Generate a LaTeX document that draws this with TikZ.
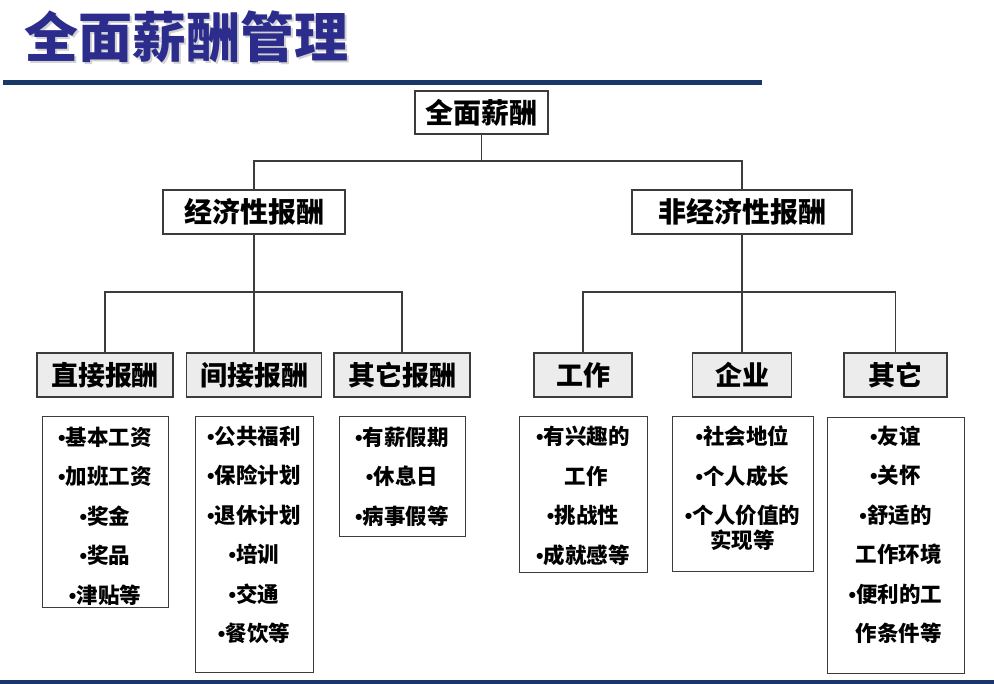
\documentclass[tikz,border=0pt]{standalone}
\usepackage{fontspec}
\newfontfamily\cjk{Noto Sans CJK SC}
\newfontfamily\latinf{Liberation Sans}
\newcommand{\bul}{{\latinf\bfseries •}}
\definecolor{titleblue}{RGB}{44,44,140}
\definecolor{navy}{RGB}{25,55,105}
\definecolor{boxgray}{RGB}{236,236,236}
\definecolor{edge}{RGB}{60,60,60}
\begin{document}
\begin{tikzpicture}[x=1pt,y=-1pt,
  conn/.style={draw=edge,line width=1.3pt},
  topbox/.style={draw=edge,line width=1.4pt,fill=white,inner sep=0pt,
    font=\cjk\bfseries\fontsize{28}{30}\selectfont},
  catbox/.style={draw=edge,line width=1.8pt,fill=boxgray,inner sep=0pt,minimum height=44pt,
    font=\cjk\bfseries\fontsize{27}{30}\selectfont},
  listbox/.style={draw=edge,line width=1.4pt,fill=white,inner sep=0pt,anchor=north west},
  listtext/.style={inner sep=0pt,align=center,font=\cjk\bfseries\fontsize{21.5}{39.5}\selectfont},
  rule/.style={draw=navy,line width=5pt}
]
\useasboundingbox (0,0) rectangle (994,684);
% title
\node[inner sep=0pt,anchor=west,text=gray!35,font=\cjk\bfseries\fontsize{54}{60}\selectfont] (titleshadow) at (26,39) {全面薪酬管理};
\node[inner sep=0pt,anchor=west,text=titleblue,font=\cjk\bfseries\fontsize{54}{60}\selectfont] (title) at (24,37) {全面薪酬管理};
\coordinate (r1a) at (3,83); \coordinate (r1b) at (762,83);
\draw[rule] (r1a) -- (r1b);
\coordinate (r2a) at (0,681.5); \coordinate (r2b) at (994,681.5);
\draw[draw=navy,line width=4pt] (r2a) -- (r2b);
% top levels
\node[topbox,minimum width=133pt,minimum height=43pt] (root) at (481.5,112.5) {全面薪酬};
\node[topbox,minimum width=182pt,minimum height=44pt] (econ) at (254,212) {经济性报酬};
\node[topbox,minimum width=220pt,minimum height=44pt] (non) at (742,212) {非经济性报酬};
% category boxes
\node[catbox,minimum width=136pt] (d1) at (105,375) {直接报酬};
\node[catbox,minimum width=135pt] (d2) at (254,375) {间接报酬};
\node[catbox,minimum width=136pt] (d3) at (402,375) {其它报酬};
\node[catbox,minimum width=98pt] (n1) at (583,375) {工作};
\node[catbox,minimum width=99pt] (n2) at (742,375) {企业};
\node[catbox,minimum width=103pt] (n3) at (895.5,375) {其它};
% connectors
\coordinate (j1) at (481.5,161);
\coordinate (j2) at (254,292);
\coordinate (j3) at (742,292);
\draw[conn] (root.south) -- (j1);
\draw[conn] (econ.north) |- (j1) -| (non.north);
\draw[conn] (econ.south) -- (j2);
\draw[conn] (d1.north) |- (j2) -| (d3.north);
\draw[conn] (d2.north) -- (j2);
\draw[conn] (non.south) -- (j3);
\draw[conn] (n1.north) |- (j3) -| (n3.north);
\draw[conn] (n2.north) -- (j3);
% list boxes
\node[listbox,minimum width=126pt,minimum height=191pt] (l1) at (42,416) {};
\node[listbox,minimum width=118pt,minimum height=256pt] (l2) at (195,416) {};
\node[listbox,minimum width=126pt,minimum height=120pt] (l3) at (339,416) {};
\node[listbox,minimum width=128pt,minimum height=156pt] (m1) at (519,416) {};
\node[listbox,minimum width=141pt,minimum height=155pt] (m2) at (672,416) {};
\node[listbox,minimum width=137pt,minimum height=256pt] (m3) at (827,417) {};
% list texts
\node[listtext] (t1) at (105,516) {\bul{}基本工资\\\bul{}加班工资\\\bul{}奖金\\\bul{}奖品\\\bul{}津贴等};
\node[listtext] (t2) at (254,535) {\bul{}公共福利\\\bul{}保险计划\\\bul{}退休计划\\\bul{}培训\\\bul{}交通\\\bul{}餐饮等};
\node[listtext] (t3) at (402,476.5) {\bul{}有薪假期\\\bul{}休息日\\\bul{}病事假等};
\node[listtext] (u1) at (583,496) {\bul{}有兴趣的\\\hspace{0.3em}工作\\\bul{}挑战性\\\bul{}成就感等};
\node[listtext] (u2) at (742.5,488.5) {\bul{}社会地位\\\bul{}个人成长\\\bul{}个人价值的\\[-14.5pt]实现等};
\node[listtext] (u3) at (895.5,535) {\bul{}友谊\\\bul{}关怀\\\bul{}舒适的\\\hspace{0.3em}工作环境\\\bul{}便利的工\\\hspace{0.3em}作条件等};
\end{tikzpicture}
\end{document}
